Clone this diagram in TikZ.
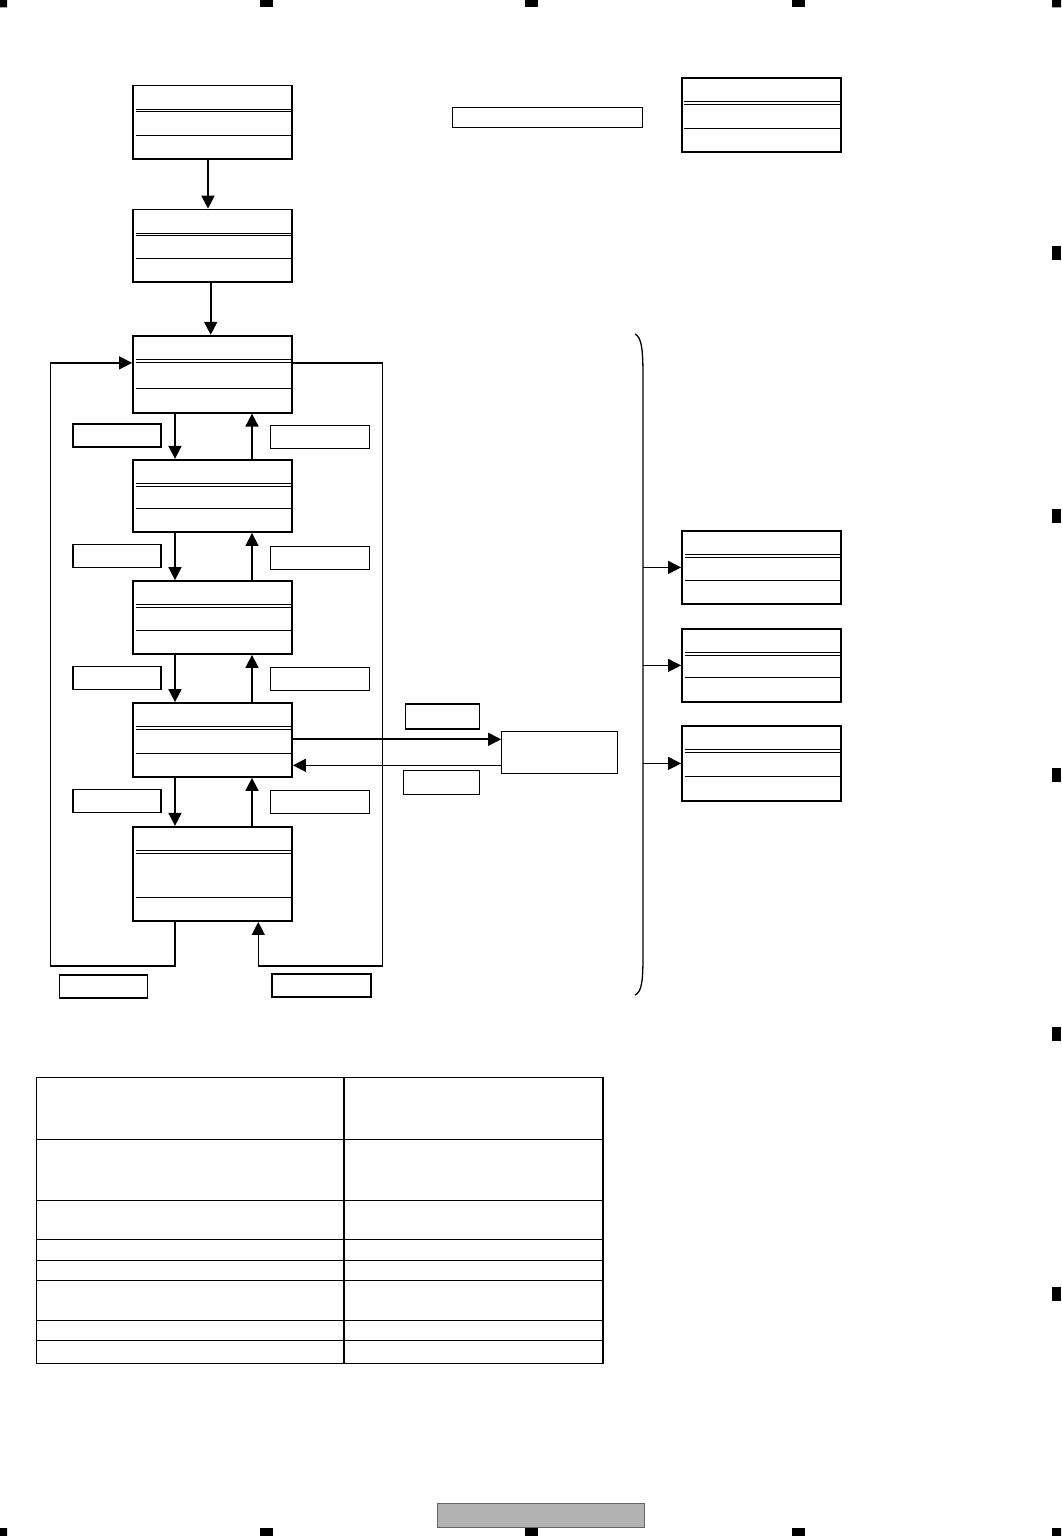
\documentclass[tikz,border=0pt]{standalone}
\usepackage{tikz}
\usetikzlibrary{arrows.meta,positioning,calc}
\definecolor{FootGray}{HTML}{B3B3B3}
\definecolor{FootEdge}{HTML}{666666}

\begin{document}
\begin{tikzpicture}[x=1pt,y=-1pt,>={Triangle[length=13pt,width=13pt]},
 statebox/.style={draw,line width=1.8pt,minimum width=159pt,minimum height=73pt,inner sep=0pt,
  path picture={\draw[line width=.9pt]
   ([shift={(2.5pt,-23.5pt)}]path picture bounding box.north west) -- ([yshift=-23.5pt]path picture bounding box.north east)
   ([shift={(2.5pt,-26.3pt)}]path picture bounding box.north west) -- ([yshift=-26.3pt]path picture bounding box.north east)
   ([shift={(2.5pt,24pt)}]path picture bounding box.south west) -- ([yshift=24pt]path picture bounding box.south east);}},
 tagL/.style={draw,line width=1.4pt,minimum width=88pt,minimum height=23pt,inner sep=0pt},
 tagR/.style={draw,line width=1pt,minimum width=99pt,minimum height=23pt,inner sep=0pt},
 plainbox/.style={draw,line width=1.2pt,inner sep=0pt},
 flow/.style={line width=1.8pt},
 loopline/.style={line width=1.3pt}]
\useasboundingbox (0,0) rectangle (1061,1536);
\node[statebox,minimum height=73.5pt] (power) at (212.5,122.3) {};
\node[statebox,minimum height=72.5pt] (init) at (212.5,245.8) {};
\node[statebox,minimum height=77pt] (modeA) at (212.5,374.2) {};
\node[statebox,minimum height=72.3pt] (modeB) at (212.5,495.9) {};
\node[statebox,minimum height=73pt] (modeC) at (212.5,617.5) {};
\node[statebox,minimum height=74pt] (modeD) at (212.5,740) {};
\node[statebox,minimum height=94.3pt] (modeE) at (212.5,873.9) {};
\node[tagL] (downA) at (117,435.3) {}; \node[tagR] (upA) at (319.8,437) {};
\node[tagL] (downB) at (117,555.7) {}; \node[tagR] (upB) at (319.8,557.5) {};
\node[tagL] (downC) at (117,677.8) {}; \node[tagR] (upC) at (319.8,679) {};
\node[tagL] (downD) at (117,800.8) {}; \node[tagR] (upD) at (319.8,802) {};
\node[tagL,line width=1.5pt] (backL) at (103.5,986.5) {};
\node[tagR,line width=1.5pt] (backR) at (321.3,985.3) {};
\node[plainbox,minimum width=116pt,minimum height=42pt] (ext) at (559.7,752.3) {};
\node[tagL,minimum width=74pt,minimum height=25pt] (toExt) at (442.5,716.5) {};
\node[tagL,minimum width=76pt,minimum height=24pt] (fromExt) at (441.5,782.3) {};
\node[plainbox,line width=1.4pt,minimum width=190pt,minimum height=20pt] (legend) at (547.5,117.3) {};
\node[statebox,minimum height=73.7pt] (keyState) at (761.2,115.2) {};
\node[statebox,minimum height=73.3pt] (outA) at (761.5,567.4) {};
\node[statebox,minimum height=72.7pt] (outB) at (761.5,665.4) {};
\node[statebox,minimum height=74.7pt] (outC) at (761.5,763.4) {};
\coordinate (loopBL) at (50.5,966); \coordinate (loopBR) at (382.7,966);
\coordinate (brc) at (643,0);
\draw[->,flow] ([xshift=-4.5pt]power.south) -- ([xshift=-4.5pt]init.north);
\draw[->,flow] ([xshift=-1.8pt]init.south) -- ([xshift=-1.8pt]modeA.north);
\foreach \a/\b in {modeA/modeB,modeB/modeC,modeC/modeD,modeD/modeE}{
 \draw[->,flow] ([xshift=-37.5pt]\a.south) -- ([xshift=-37.5pt]\b.north);
 \draw[->,flow] ([xshift=39.5pt]\b.north) -- ([xshift=39.5pt]\a.south);}
\draw[->,loopline] ([xshift=-37.5pt]modeE.south) |- (loopBL) |- ([yshift=11.3pt]modeA.west);
\draw[->,loopline] ([yshift=11.3pt]modeA.east) -| (loopBR) -| ([xshift=45.8pt]modeE.south);
\draw[->,flow] ([yshift=13pt]ext.west -| modeD.east) -- ([yshift=13pt]ext.west);
\draw[->,loopline] ([yshift=-13pt]ext.west) -- ([yshift=-13pt]ext.west -| modeD.east);
\draw[line width=1.3pt] (635,334) .. controls (642,337) and (643,352) .. (643,377) -- (643,955) .. controls (643,980) and (642,992) .. (635,995);
\draw[->,line width=1.2pt] (outA.west -| brc) -- (outA.west);
\draw[->,line width=1.2pt] (outB.west -| brc) -- (outB.west);
\draw[->,line width=1.2pt] (outC.west -| brc) -- (outC.west);
\draw[line width=1.2pt] (36.4,1077.3) rectangle (603,1363.3) (344,1077.3) -- (344,1363.3);
\foreach \ry in {1139.3,1200.3,1239.3,1260.3,1280.3,1320.3,1340.3}
 \draw[line width=1.2pt] (36.4,\ry) -- (603,\ry);
\node[draw=FootEdge,fill=FootGray,line width=1pt,minimum width=207pt,minimum height=24pt,inner sep=0pt] (footer) at (541,1515.3) {};
\foreach \mx in {260,525,792}{
 \fill (\mx,0) rectangle ++(13,7.5); \fill (\mx,1528) rectangle ++(13,8);}
\fill (0,0) rectangle (7,7.5) (0,1528) rectangle (7,1536);
\fill (1052,0) rectangle (1061,7.5) (1052,1528) rectangle (1061,1536);
\foreach \my in {246,509,768,1027,1287}
 \fill (1052,\my) rectangle ++(9,14);
\end{tikzpicture}
\end{document}
